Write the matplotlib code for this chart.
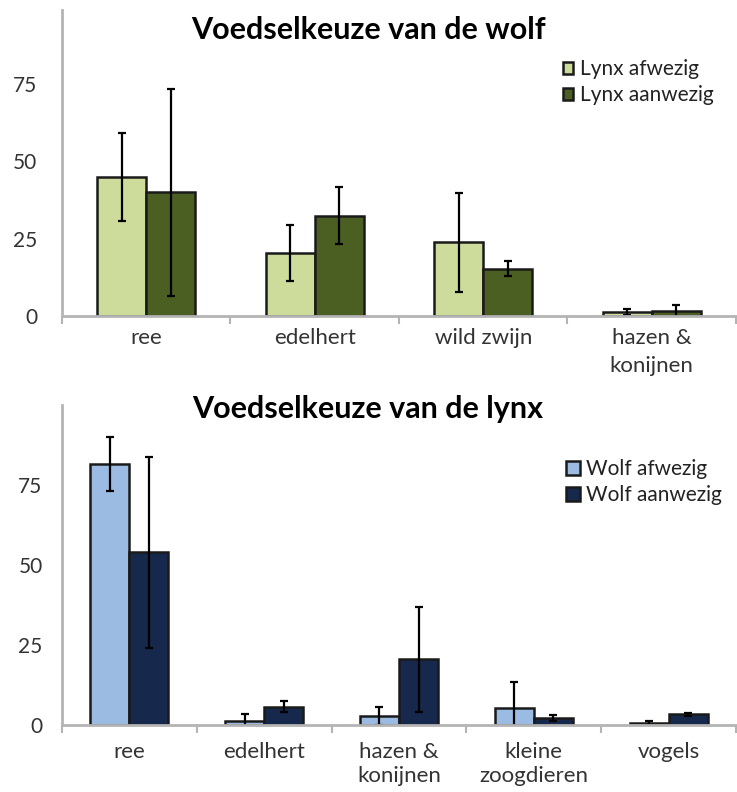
import matplotlib.pyplot as plt
import numpy as np

plt.rcParams['font.family'] = ['Lato', 'DejaVu Sans']

# top chart: wolf diet
wolf_cats = ["ree", "edelhert", "wild zwijn", "hazen &\nkonijnen"]
lynx_absent = [45.0, 20.3, 23.8, 1.4]
lynx_absent_err = [14.2, 9.1, 15.9, 1.0]
lynx_present = [40.1, 32.4, 15.3, 1.7]
lynx_present_err = [33.5, 9.2, 2.4, 1.9]

# bottom chart: lynx diet
lynx_cats = ["ree", "edelhert", "hazen &\nkonijnen", "kleine\nzoogdieren", "vogels"]
wolf_absent = [81.6, 1.4, 2.9, 5.2, 0.5]
wolf_absent_err = [8.4, 2.0, 2.8, 8.3, 0.6]
wolf_present = [54.0, 5.7, 20.5, 2.1, 3.4]
wolf_present_err = [29.9, 1.7, 16.5, 1.0, 0.5]

W, H = 737, 792
fig = plt.figure(figsize=(W / 100, H / 100), dpi=100)

axis_col = '#b4b4b4'
text_col = '#333333'


def panel(ax, cats, v1, e1, v2, e2, c1, c2, lab1, lab2, ymax, tick_pad, cat_pad, cat_ls,
          leg_pos, leg_hl, leg_ls):
    n = len(cats)
    centers = np.arange(n) + 0.5
    bw = 0.29
    ekw = dict(elinewidth=1.6, capsize=3, capthick=1.6, ecolor='black')
    ax.bar(centers - bw / 2, v1, bw, yerr=e1, color=c1, edgecolor='#1a1a1a', linewidth=1.8,
           label=lab1, error_kw=ekw)
    ax.bar(centers + bw / 2, v2, bw, yerr=e2, color=c2, edgecolor='#1a1a1a', linewidth=1.8,
           label=lab2, error_kw=ekw)
    ax.set_xlim(0, n)
    ax.set_ylim(0, ymax)
    for s in ['top', 'right']:
        ax.spines[s].set_visible(False)
    for s in ['left', 'bottom']:
        ax.spines[s].set_color(axis_col)
        ax.spines[s].set_linewidth(2)
    ax.set_xticks(np.arange(n + 1))
    ax.set_xticklabels([])
    ax.tick_params(axis='x', which='major', direction='out', length=6, width=1.5, color=axis_col)
    ax.set_xticks(centers, minor=True)
    ax.set_xticklabels(cats, minor=True, fontsize=16, color=text_col, linespacing=cat_ls, va='top')
    ax.tick_params(axis='x', which='minor', length=0, pad=cat_pad)
    ax.set_yticks([0, 25, 50, 75])
    ax.tick_params(axis='y', length=0, pad=tick_pad, labelsize=15, labelcolor=text_col)
    ax.legend(loc='upper left', bbox_to_anchor=leg_pos, bbox_transform=fig.transFigure,
              frameon=False, fontsize=15, handlelength=leg_hl, handleheight=leg_hl,
              handletextpad=0.3, labelspacing=leg_ls, borderpad=0, borderaxespad=0,
              labelcolor='#222222')


ax1 = fig.add_axes([62 / W, 1 - 316 / H, 674 / W, 306 / H])
panel(ax1, wolf_cats, lynx_absent, lynx_absent_err, lynx_present, lynx_present_err,
      '#cddc9b', '#4b5f23', 'Lynx afwezig', 'Lynx aanwezig', 99, 18, 9, 1.45,
      (563 / W, 1 - 59 / H), 0.5, 0.3)

ax2 = fig.add_axes([62 / W, 1 - 725 / H, 674 / W, 320 / H])
panel(ax2, lynx_cats, wolf_absent, wolf_absent_err, wolf_present, wolf_present_err,
      '#9bbbe3', '#16284c', 'Wolf afwezig', 'Wolf aanwezig', 100, 14, 12, 1.3,
      (566 / W, 1 - 459 / H), 0.68, 0.3)

fig.text(368 / W, 1 - 39 / H, "Voedselkeuze van de wolf", ha='center', va='baseline',
         fontsize=22, fontweight='bold', color='black')
fig.text(368 / W, 1 - 418 / H, "Voedselkeuze van de lynx", ha='center', va='baseline',
         fontsize=22, fontweight='bold', color='black')

fig.savefig('out.png', dpi=100)
